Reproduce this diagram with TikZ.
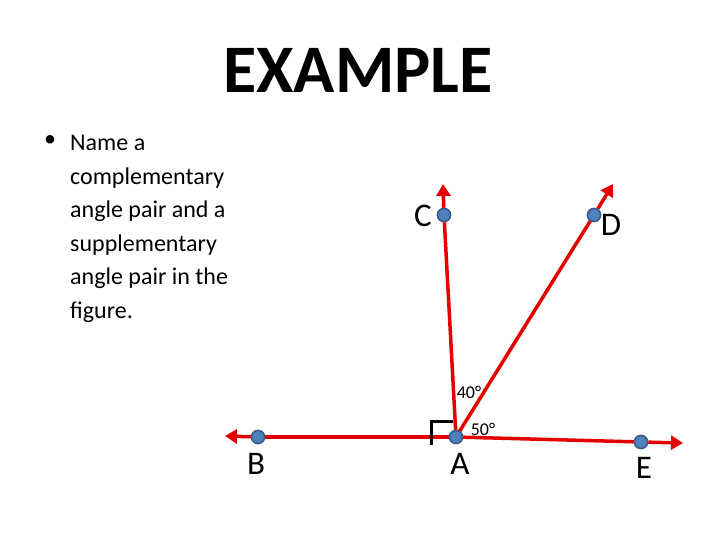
\documentclass[tikz,border=0pt]{standalone}
\usepackage{fontspec}
\setmainfont{Carlito}
\usetikzlibrary{arrows.meta}
\definecolor{dotblue}{RGB}{79,129,189}
\definecolor{dotedge}{RGB}{56,93,138}
\begin{document}
\begin{tikzpicture}[x=1pt,y=-1pt,
  ray/.style={red!90!black,line width=3.5pt,-{Triangle[length=12pt,width=14pt]}},
  seg/.style={red!90!black,line width=3.5pt},
  dot/.style={circle,fill=dotblue,draw=dotedge,line width=1.5pt,inner sep=0pt,minimum size=13pt},
  lbl/.style={font=\fontsize{33}{33}\selectfont},
  deg/.style={font=\fontsize{18}{18}\selectfont}]
\useasboundingbox (0,0) rectangle (720,540);
\node (title) at (358,70) {\fontsize{68}{68}\selectfont\bfseries EXAMPLE};
\node[anchor=north west,font=\fontsize{24}{33.5}\selectfont,inner sep=0pt] (bul) at (44,135) {\textbullet};
\node[anchor=north west,align=left,font=\fontsize{24}{33.5}\selectfont,inner sep=0pt] (txt) at (70,135)
 {Name a\\complementary\\angle pair and a\\supplementary\\angle pair in the\\figure.};
\coordinate (Bt) at (225,436);
\coordinate (Et) at (683,443);
\coordinate (Ct) at (443,184);
\coordinate (Dt) at (613,184);
\node[dot] (A) at (456,437) {};
\node[dot] (B) at (258,437) {};
\node[dot] (E) at (641,442) {};
\node[dot] (C) at (444,215) {};
\node[dot] (D) at (594,215) {};
\draw[seg] (A.center) -- (B);
\draw[ray] (B) -- (Bt);
\draw[seg] (A.center) -- (E);
\draw[ray] (E) -- (Et);
\draw[seg] (A.center) -- (C);
\draw[ray] (C) -- (Ct);
\draw[seg] (A.center) -- (D);
\draw[ray] (D) -- (Dt);
\node[dot] at (A) {};
\node[dot] at (B) {};
\node[dot] at (E) {};
\node[dot] at (C) {};
\node[dot] at (D) {};
\draw[line width=3pt] (431,445) -- (431,421) -- (453,421);
\node[lbl] (lB) at (256,464) {B};
\node[lbl] (lA) at (460,464) {A};
\node[lbl] (lE) at (644,468) {E};
\node[lbl] (lC) at (423,216) {C};
\node[lbl] (lD) at (611,225) {D};
\node[deg] (d40) at (469,392) {40°};
\node[deg] (d50) at (483,429) {50°};
\end{tikzpicture}
\end{document}
